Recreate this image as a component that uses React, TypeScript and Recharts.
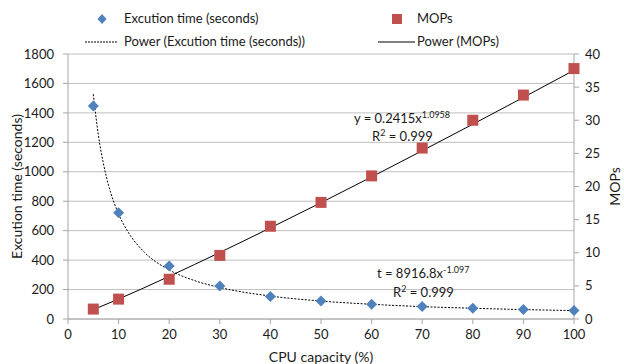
import {
  ComposedChart,
  Scatter,
  Line,
  XAxis,
  YAxis,
  CartesianGrid,
} from 'recharts'

// measured points
const cpuCapacity = [5, 10, 20, 30, 40, 50, 60, 70, 80, 90, 100]
const execTime = [1447, 722, 360, 225, 152, 122, 100, 85, 73, 64, 57]
const mops = [1.5, 3.0, 6.0, 9.6, 14.0, 17.6, 21.6, 25.8, 30.0, 33.8, 37.8]

// trend curves
const timeTrendX = [5, 6, 7, 8, 10, 12, 15, 20, 25, 30, 40, 50, 60, 70, 80, 90, 100]
const timeTrendY = [1527, 1249, 1055, 911, 713, 584, 457, 333, 261, 214, 156, 122, 100, 84, 73, 64, 57]
const mopsTrendX = [5, 10, 20, 30, 40, 50, 60, 70, 80, 90, 100]
const mopsTrendY = [1.41, 3.01, 6.44, 10.04, 13.76, 17.56, 21.44, 25.4, 29.4, 33.45, 37.55]

const xTicks = [0, 10, 20, 30, 40, 50, 60, 70, 80, 90, 100]
const leftTicks = [0, 200, 400, 600, 800, 1000, 1200, 1400, 1600, 1800]
const rightTicks = [0, 5, 10, 15, 20, 25, 30, 35, 40]

const BLUE = '#4F81BD'
const RED = '#C0504D'
const AXIS = '#a6a6a6'
const GRID = '#bfbfbf'
const TEXT = '#1a1a1a'
const FONT = 'Lato, "Open Sans", sans-serif'

const timeData = cpuCapacity.map((x, i) => ({ x, t: execTime[i] }))
const mopsData = cpuCapacity.map((x, i) => ({ x, m: mops[i] }))
const timeTrend = timeTrendX.map((x, i) => ({ x, t: timeTrendY[i] }))
const mopsTrend = mopsTrendX.map((x, i) => ({ x, m: mopsTrendY[i] }))

function Diamond(props: any) {
  const { cx, cy } = props
  const r = 5.5
  return (
    <polygon
      points={`${cx},${cy - r} ${cx + r},${cy} ${cx},${cy + r} ${cx - r},${cy}`}
      fill={BLUE}
    />
  )
}

function Square(props: any) {
  const { cx, cy } = props
  const s = 11
  return <rect x={cx - s / 2} y={cy - s / 2} width={s} height={s} fill={RED} />
}

const tickStyle = { fontSize: 13, fill: TEXT, fontFamily: FONT }

export default function App() {
  return (
    <div
      style={{
        position: 'absolute',
        left: 0,
        top: 0,
        width: 624,
        height: 364,
        background: '#fff',
        fontFamily: FONT,
        color: TEXT,
      }}
    >
      <ComposedChart
        width={624}
        height={364}
        margin={{ top: 54, right: 0, bottom: 0, left: 0 }}
      >
        <CartesianGrid
          yAxisId="left"
          vertical={false}
          stroke={GRID}
          horizontalValues={leftTicks}
        />
        <XAxis
          type="number"
          dataKey="x"
          domain={[0, 100]}
          ticks={xTicks}
          height={45}
          stroke={AXIS}
          tickSize={5}
          tickMargin={6}
          tick={tickStyle}
          label={{
            value: 'CPU capacity (%)',
            position: 'insideBottom',
            offset: 2,
            style: { fontSize: 14, fill: TEXT, fontFamily: FONT },
          }}
        />
        <YAxis
          yAxisId="left"
          type="number"
          domain={[0, 1800]}
          ticks={leftTicks}
          width={68}
          stroke={AXIS}
          tickSize={5}
          tickMargin={9}
          tick={tickStyle}
          label={{
            value: 'Excution time (seconds)',
            angle: -90,
            position: 'insideLeft',
            offset: 17,
            style: { textAnchor: 'middle', fontSize: 14, fill: TEXT, fontFamily: FONT },
          }}
        />
        <YAxis
          yAxisId="right"
          orientation="right"
          type="number"
          domain={[0, 40]}
          ticks={rightTicks}
          width={50}
          stroke={AXIS}
          tickSize={5}
          tickMargin={6}
          tick={tickStyle}
          label={{
            value: 'MOPs',
            angle: -90,
            position: 'insideRight',
            offset: 9,
            style: { textAnchor: 'middle', fontSize: 14, fill: TEXT, fontFamily: FONT },
          }}
        />
        <Line
          yAxisId="left"
          data={timeTrend}
          dataKey="t"
          type="monotone"
          stroke="#000"
          strokeWidth={1}
          strokeDasharray="2 1.5"
          dot={false}
          isAnimationActive={false}
        />
        <Line
          yAxisId="right"
          data={mopsTrend}
          dataKey="m"
          type="monotone"
          stroke="#000"
          strokeWidth={1}
          dot={false}
          isAnimationActive={false}
        />
        <Scatter
          yAxisId="left"
          data={timeData}
          dataKey="t"
          shape={<Diamond />}
          isAnimationActive={false}
        />
        <Scatter
          yAxisId="right"
          data={mopsData}
          dataKey="m"
          shape={<Square />}
          isAnimationActive={false}
        />
      </ComposedChart>

      {/* legend */}
      <div style={{ position: 'absolute', left: 0, top: 0, fontSize: 13 }}>
        <svg width={624} height={52} style={{ position: 'absolute', left: 0, top: 0 }}>
          <polygon points="102,14 106.5,19 102,24 97.5,19" fill={BLUE} />
          <rect x={392} y={14} width={10} height={10} fill={RED} />
          <line x1={85} y1={42} x2={117} y2={42} stroke="#000" strokeWidth={1} strokeDasharray="2 1" />
          <line x1={378} y1={42} x2={415} y2={42} stroke="#000" strokeWidth={1} />
        </svg>
        <span style={{ position: 'absolute', left: 124, top: 10, whiteSpace: 'nowrap' }}>
          Excution time (seconds)
        </span>
        <span style={{ position: 'absolute', left: 417, top: 10, whiteSpace: 'nowrap' }}>MOPs</span>
        <span style={{ position: 'absolute', left: 124, top: 33, whiteSpace: 'nowrap' }}>
          Power (Excution time (seconds))
        </span>
        <span style={{ position: 'absolute', left: 417, top: 33, whiteSpace: 'nowrap' }}>
          Power (MOPs)
        </span>
      </div>

      {/* trendline equations */}
      <div style={{ position: 'absolute', left: 354, top: 109, fontSize: 13, whiteSpace: 'nowrap' }}>
        y = 0.2415x<sup style={{ fontSize: 9 }}>1.0958</sup>
      </div>
      <div style={{ position: 'absolute', left: 372, top: 127, fontSize: 13, whiteSpace: 'nowrap' }}>
        R<sup style={{ fontSize: 9 }}>2</sup> = 0.999
      </div>
      <div style={{ position: 'absolute', left: 377, top: 264, fontSize: 13, whiteSpace: 'nowrap' }}>
        t = 8916.8x<sup style={{ fontSize: 9 }}>-1.097</sup>
      </div>
      <div style={{ position: 'absolute', left: 393, top: 283, fontSize: 13, whiteSpace: 'nowrap' }}>
        R<sup style={{ fontSize: 9 }}>2</sup> = 0.999
      </div>
    </div>
  )
}
